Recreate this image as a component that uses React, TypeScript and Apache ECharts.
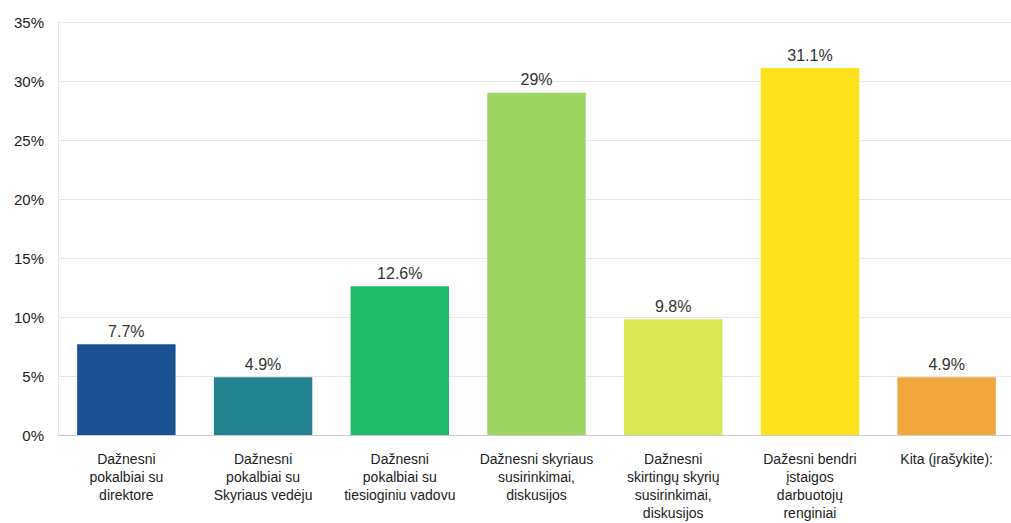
import React, { useEffect, useRef } from "react";
import * as echarts from "echarts";

const categories = [
  "Dažnesni\npokalbiai su\ndirektore",
  "Dažnesni\npokalbiai su\nSkyriaus vedėju",
  "Dažnesni\npokalbiai su\ntiesioginiu vadovu",
  "Dažnesni skyriaus\nsusirinkimai,\ndiskusijos",
  "Dažnesni\nskirtingų skyrių\nsusirinkimai,\ndiskusijos",
  "Dažesni bendri\nįstaigos\ndarbuotojų\nrenginiai",
  "Kita (įrašykite):",
];
const values = [7.7, 4.9, 12.6, 29, 9.8, 31.1, 4.9];
const colors = ["#1b5192", "#23828f", "#1fba6c", "#9cd662", "#d8e752", "#fde21d", "#f0a83e"];
const yTicks = [0, 5, 10, 15, 20, 25, 30, 35];

export default function App() {
  const ref = useRef<HTMLDivElement>(null);
  useEffect(() => {
    const chart = echarts.init(ref.current!, null, { renderer: "svg" });
    chart.setOption({
      animation: false,
      textStyle: { fontFamily: "Liberation Sans, Arial, sans-serif" },
      grid: { left: 58, right: 0, top: 22, bottom: 88 },
      xAxis: {
        type: "category",
        data: categories,
        axisTick: { show: false },
        axisLine: { lineStyle: { color: "#cccccc" } },
        axisLabel: {
          color: "#222",
          fontSize: 14,
          lineHeight: 18,
          margin: 15,
          interval: 0,
          verticalAlign: "top",
        },
      },
      yAxis: {
        type: "value",
        min: yTicks[0],
        max: yTicks[yTicks.length - 1],
        interval: 5,
        axisLine: { show: true, lineStyle: { color: "#e6e6e6" } },
        axisTick: { show: false },
        splitLine: { lineStyle: { color: "#e6e6e6" } },
        axisLabel: { color: "#222", fontSize: 15, margin: 14, formatter: "{value}%" },
      },
      series: [
        {
          type: "bar",
          barWidth: "72%",
          data: values.map((v, i) => ({ value: v, itemStyle: { color: colors[i] } })),
          label: {
            show: true,
            position: "top",
            color: "#333",
            fontSize: 16,
            distance: 5,
            formatter: (p: any) => `${p.value}%`,
          },
        },
      ],
    });
    return () => chart.dispose();
  }, []);
  return (
    <div
      style={{
        position: "absolute",
        left: 0,
        top: 0,
        width: 1011,
        height: 523,
        overflow: "hidden",
        background: "#fff",
      }}
    >
      <div ref={ref} style={{ width: 1015, height: 523 }} />
    </div>
  );
}
